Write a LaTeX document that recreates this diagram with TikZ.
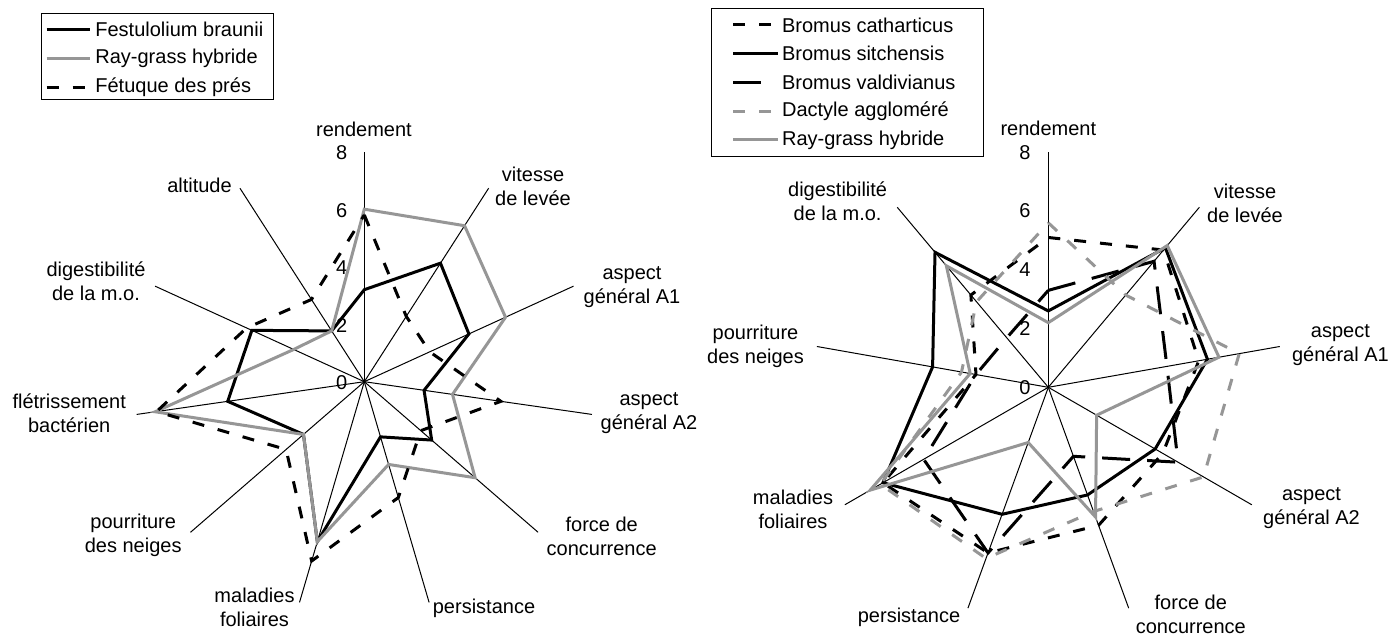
\documentclass[tikz,border=0pt]{standalone}
\usepackage{fontspec}
\setmainfont{Liberation Sans}
\definecolor{xlgray}{RGB}{150,150,150}
\begin{document}
\begin{tikzpicture}[x=0.5pt,y=0.5pt,
  ax/.style={line width=0.5pt,black},
  ser/.style={line width=1.5pt},
  blk/.style={ser,black},
  gry/.style={ser,xlgray},
  sdash/.style={dash pattern=on 6pt off 7pt},
  ldash/.style={dash pattern=on 14pt off 8.5pt},
  lab/.style={font=\fontsize{10}{12}\selectfont, align=center, inner sep=0pt},
  tick/.style={font=\fontsize{10}{12}\selectfont, inner sep=0pt},
  legtxt/.style={font=\fontsize{10}{12}\selectfont, inner sep=0pt, anchor=west},
  legbox/.style={draw=black, line width=0.5pt}
]
\useasboundingbox (0,0) rectangle (1390,-636);

% ================= LEFT CHART =================
\begin{scope}[shift={(364.3,-381.7)}]
  \coordinate (LC) at (0,0);
  \foreach \k in {0,...,10} {
    \coordinate (LE\k) at ({90-\k*360/11}:230);
    \draw[ax] (LC) -- (LE\k);
  }
  \foreach \v in {0,2,4,6,8}
    \node[tick] (LT\v) at (-22.6,{\v*28.75-1}) {\v};
  % Festulolium braunii
  \foreach \v [count=\i from 0] in {3.2,4.9,4.0,2.1,3.1,2.0,5.8,2.8,4.8,4.3,2.1}
    \coordinate (FB\i) at ({90-\i*360/11}:{\v*28.75});
  \draw[blk] (FB0) \foreach \i in {1,...,10}{ -- (FB\i)} -- cycle;
  % Ray-grass hybride
  \foreach \v [count=\i from 0] in {6.0,6.45,5.4,3.1,5.1,3.0,5.8,2.8,7.35,2.7,2.1}
    \coordinate (RG\i) at ({90-\i*360/11}:{\v*28.75});
  \draw[gry] (RG0) \foreach \i in {1,...,10}{ -- (RG\i)} -- cycle;
  % Fetuque des pres
  \foreach \v [count=\i from 0] in {5.8,2.7,2.5,4.8,2.6,4.2,6.5,3.6,7.3,4.5,3.4}
    \coordinate (FP\i) at ({90-\i*360/11}:{\v*28.75});
  \draw[blk,sdash] (FP0) \foreach \i in {1,...,10}{ -- (FP\i)} -- cycle;
\end{scope}

\node[lab] (L0) at (364,-129.5) {rendement};
\node[lab] (L1) at (533,-186) {vitesse\\de levée};
\node[lab] (L2) at (632,-287) {aspect\\général A1};
\node[lab] (L3) at (649,-413) {aspect\\général A2};
\node[lab] (L4) at (601.7,-536) {force de\\concurrence};
\node[lab] (L5) at (484,-608) {persistance};
\node[lab] (L6) at (254.5,-607) {maladies\\foliaires};
\node[lab] (L7) at (133.2,-535.5) {pourriture\\des neiges};
\node[lab] (L8) at (69.2,-413.4) {flétrissement\\bactérien};
\node[lab] (L9) at (96,-281.7) {digestibilité\\de la m.o.};
\node[lab] (L10) at (199.5,-185) {altitude};

% ================= RIGHT CHART =================
\begin{scope}[shift={(1048.3,-387.3)}]
  \coordinate (RC) at (0,0);
  \foreach \k in {0,...,8} {
    \coordinate (RE\k) at ({90-\k*40}:235);
    \draw[ax] (RC) -- (RE\k);
  }
  \foreach \v in {0,2,4,6,8}
    \node[tick] (RT\v) at (-23.3,{\v*29.375}) {\v};
  % Bromus catharticus
  \foreach \v [count=\i from 0] in {5.1,6.1,5.2,4.5,5.0,6.0,6.5,2.5,4.1}
    \coordinate (BC\i) at ({90-\i*40}:{\v*29.375});
  \draw[blk,sdash] (BC0) \foreach \i in {1,...,8}{ -- (BC\i)} -- cycle;
  % Bromus sitchensis
  \foreach \v [count=\i from 0] in {2.6,6.2,5.5,4.2,3.9,4.6,6.5,4.0,6.0}
    \coordinate (BS\i) at ({90-\i*40}:{\v*29.375});
  \draw[blk] (BS0) \foreach \i in {1,...,8}{ -- (BS\i)} -- cycle;
  % Bromus valdivianus
  \foreach \v [count=\i from 0] in {3.3,5.6,4.1,5.1,2.5,6.0,4.9,2.5,2.2}
    \coordinate (BV\i) at ({90-\i*40}:{\v*29.375});
  \draw[blk,ldash] (BV0) \foreach \i in {1,...,8}{ -- (BV\i)} -- cycle;
  % Dactyle agglomere
  \foreach \v [count=\i from 0] in {5.6,4.1,6.6,6.1,4.5,6.2,6.6,3.0,3.8}
    \coordinate (DA\i) at ({90-\i*40}:{\v*29.375});
  \draw[gry,sdash] (DA0) \foreach \i in {1,...,8}{ -- (DA\i)} -- cycle;
  % Ray-grass hybride
  \foreach \v [count=\i from 0] in {2.2,6.3,5.9,1.9,4.7,2.0,7.0,2.7,5.4}
    \coordinate (RR\i) at ({90-\i*40}:{\v*29.375});
  \draw[gry] (RR0) \foreach \i in {1,...,8}{ -- (RR\i)} -- cycle;
\end{scope}

\node[lab] (R0) at (1048.3,-128.3) {rendement};
\node[lab] (R1) at (1245,-203) {vitesse\\de levée};
\node[lab] (R2) at (1340.4,-345) {aspect\\général A1};
\node[lab] (R3) at (1311.5,-508.3) {aspect\\général A2};
\node[lab] (R4) at (1190.8,-614) {force de\\concurrence};
\node[lab] (R5) at (909,-617) {persistance};
\node[lab] (R6) at (793,-509.5) {maladies\\foliaires};
\node[lab] (R7) at (755.5,-346) {pourriture\\des neiges};
\node[lab] (R8) at (837.6,-200.8) {digestibilité\\de la m.o.};

% ================= LEGENDS =================
\draw[legbox] (41.7,-13.3) rectangle (273.3,-100);
\coordinate (la1) at (46.7,-29.3); \coordinate (lb1) at (90,-29.3);
\coordinate (la2) at (46.7,-58.3); \coordinate (lb2) at (90,-58.3);
\coordinate (la3) at (46.7,-87.3); \coordinate (lb3) at (90,-87.3);
\draw[blk] (la1) -- (lb1);
\draw[gry] (la2) -- (lb2);
\draw[blk,sdash] (la3) -- (lb3);
\node[legtxt] (lt1) at (95,-29.3) {Festulolium braunii};
\node[legtxt] (lt2) at (95,-58.3) {Ray-grass hybride};
\node[legtxt] (lt3) at (95,-87.3) {Fétuque des prés};

\draw[legbox] (711.7,-8.3) rectangle (983.3,-156.7);
\coordinate (ra1) at (733.3,-25);    \coordinate (rb1) at (778.3,-25);
\coordinate (ra2) at (733.3,-53.3);  \coordinate (rb2) at (778.3,-53.3);
\coordinate (ra3) at (733.3,-82.7);  \coordinate (rb3) at (778.3,-82.7);
\coordinate (ra4) at (733.3,-111.7); \coordinate (rb4) at (778.3,-111.7);
\coordinate (ra5) at (733.3,-140);   \coordinate (rb5) at (778.3,-140);
\draw[blk,sdash] (ra1) -- (rb1);
\draw[blk] (ra2) -- (rb2);
\draw[blk,ldash] (ra3) -- (rb3);
\draw[gry,sdash] (ra4) -- (rb4);
\draw[gry] (ra5) -- (rb5);
\node[legtxt] (rt1) at (781.7,-25) {Bromus catharticus};
\node[legtxt] (rt2) at (781.7,-53.3) {Bromus sitchensis};
\node[legtxt] (rt3) at (781.7,-82.7) {Bromus valdivianus};
\node[legtxt] (rt4) at (781.7,-111.7) {Dactyle aggloméré};
\node[legtxt] (rt5) at (781.7,-140) {Ray-grass hybride};
\end{tikzpicture}
\end{document}
